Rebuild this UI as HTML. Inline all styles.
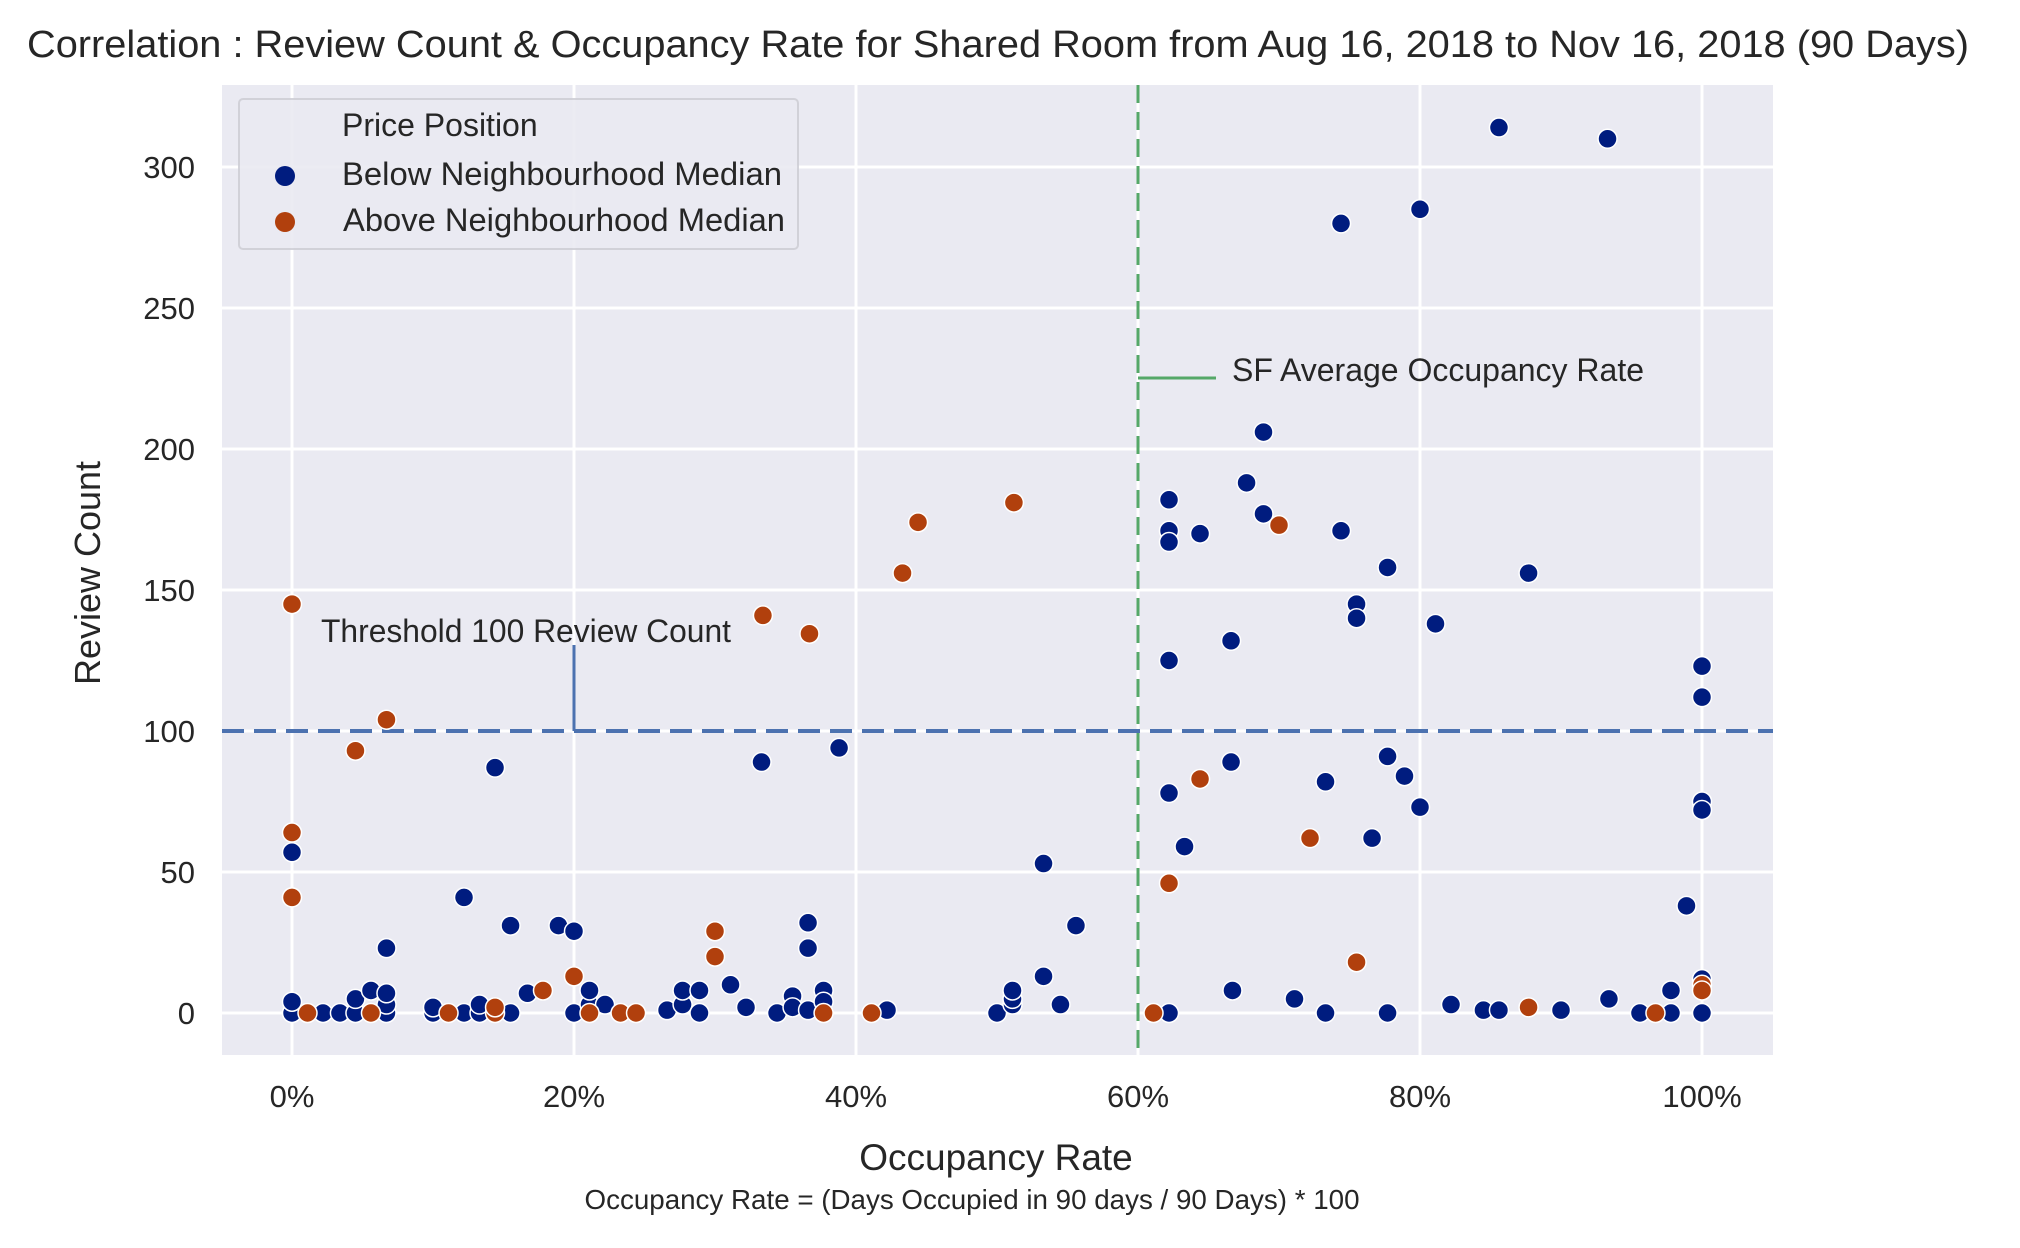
<!DOCTYPE html>
<html><head><meta charset="utf-8"><style>
html,body{margin:0;padding:0;background:#fff;}
svg{display:block;font-family:"Liberation Sans",Arial,sans-serif;}
</style></head><body>
<svg id="chart" width="2020" height="1248" viewBox="0 0 2020 1248" xmlns="http://www.w3.org/2000/svg">
<text x="27" y="57" font-size="38" fill="#262626" textLength="1942" lengthAdjust="spacingAndGlyphs">Correlation : Review Count &amp; Occupancy Rate for Shared Room from Aug 16, 2018 to Nov 16, 2018 (90 Days)</text>
<rect x="222" y="85" width="1551" height="970" fill="#eaeaf2"/>
<g id="grid"></g>
<g id="refs"></g>
<g id="points"></g>
<g id="ticks"></g>
<g>
<rect x="239" y="99" width="559" height="150" rx="4" fill="#eaeaf2" stroke="#cfcfd6" stroke-width="2" opacity="0.9"/>
<text x="342" y="136" font-size="32" fill="#262626">Price Position</text>
<circle cx="285" cy="176" r="10" fill="#001c7f"/>
<text x="342" y="185" font-size="32" fill="#262626" textLength="440" lengthAdjust="spacingAndGlyphs">Below Neighbourhood Median</text>
<circle cx="285" cy="222" r="10" fill="#b1400d"/>
<text x="343" y="231" font-size="32" fill="#262626" textLength="442" lengthAdjust="spacingAndGlyphs">Above Neighbourhood Median</text>
</g>
<text transform="translate(100,573) rotate(-90)" text-anchor="middle" font-size="36" fill="#262626">Review Count</text>
<text x="996" y="1170" text-anchor="middle" font-size="37" fill="#262626">Occupancy Rate</text>
<text x="972" y="1209" text-anchor="middle" font-size="28" fill="#262626" textLength="775" lengthAdjust="spacingAndGlyphs">Occupancy Rate = (Days Occupied in 90 days / 90 Days) * 100</text>
</svg>
<script>
const xTicks = [0, 20, 40, 60, 80, 100];
const xTickLabels = ["0%", "20%", "40%", "60%", "80%", "100%"];
const yTicks = [0, 50, 100, 150, 200, 250, 300];
const yTickLabels = ["0", "50", "100", "150", "200", "250", "300"];
const thresholdReview = 100;
const avgOccupancy = 60;
const belowX = [85.6,93.3,80,74.4,68.9,67.7,62.2,68.9,62.2,62.2,64.4,74.4,77.7,87.7,75.5,75.5,81.1,66.6,62.2,100,100,38.8,33.3,14.4,66.6,77.7,78.9,73.3,62.2,80,100,100,76.6,63.3,0,53.3,12.2,98.9,15.5,18.9,20,55.6,36.6,36.6,6.7,53.3,
 0,0,2.2,3.4,4.5,4.5,5.6,6.7,6.7,6.7,10,10,12.2,13.3,13.3,15.5,16.7,20,21.1,21.1,22.2,26.6,27.7,27.7,28.9,28.9,31.1,32.2,34.4,35.5,35.5,36.6,37.7,37.7,42.2,50,51.1,51.1,51.1,54.5,62.2,66.7,71.1,73.3,77.7,82.2,84.5,85.6,90,93.4,95.6,97.8,97.8,100,100];
const belowY = [314,310,285,280,206,188,182,177,171,167,170,171,158,156,145,140,138,132,125,123,112,94,89,87,89,91,84,82,78,73,75,72,62,59,57,53,41,38,31,31,29,31,32,23,23,13,
 0,4,0,0,0,5,8,0,3,7,0,2,0,0,3,0,7,0,3,8,3,1,3,8,0,8,10,2,0,6,2,1,8,4,1,0,3,5,8,3,0,8,5,0,0,3,1,1,1,5,0,0,8,0,12];
const aboveX = [0,0,0,1.1,4.5,5.6,6.7,11.1,14.4,14.4,17.8,20,21.1,23.3,24.4,30,30,37.7,41.1,33.4,36.7,43.3,44.4,51.2,70,64.4,72.2,62.2,75.5,87.7,96.7,61.1,100,100];
const aboveY = [145,64,41,0,93,0,104,0,0,2,8,13,0,0,0,29,20,0,0,141,134.5,156,174,181,173,83,62,46,18,2,0,0,10,8];

const NS = "http://www.w3.org/2000/svg";
function xS(p){ return 292 + 14.1*p; }
function yS(v){ return 1013 - 2.82*v; }
function mk(tag, attrs, parent){ const e=document.createElementNS(NS,tag); for(const k in attrs) e.setAttribute(k,attrs[k]); parent.appendChild(e); return e; }
const grid=document.getElementById('grid'), ticks=document.getElementById('ticks'), pts=document.getElementById('points'), refs=document.getElementById('refs');
xTicks.forEach((t,i)=>{
  const l=mk('line',{x1:xS(t),x2:xS(t),y1:85,y2:1055,stroke:'#fff','stroke-width':3},grid);
  
  
  const tx=mk('text',{x:xS(t),y:1107,'text-anchor':'middle','font-size':31,fill:'#262626'},ticks);
  tx.textContent=xTickLabels[i];
  
  
});
yTicks.forEach((t,i)=>{
  const l=mk('line',{x1:222,x2:1773,y1:yS(t),y2:yS(t),stroke:'#fff','stroke-width':3},grid);
  
  
  const tx=mk('text',{x:195,y:yS(t)+11,'text-anchor':'end','font-size':31,fill:'#262626'},ticks);
  tx.textContent=yTickLabels[i];
  
  
});
const hl=mk('line',{x1:222,x2:1773,y1:yS(thresholdReview),y2:yS(thresholdReview),stroke:'#4c72b0','stroke-width':4,'stroke-dasharray':'22,10'},refs);


const vl=mk('line',{x1:xS(avgOccupancy),x2:xS(avgOccupancy),y1:85,y2:1055,stroke:'#55a868','stroke-width':3,'stroke-dasharray':'18,9'},refs);


const ha=mk('line',{x1:xS(20),x2:xS(20),y1:645,y2:yS(thresholdReview),stroke:'#4c72b0','stroke-width':3},refs);


const ht=mk('text',{x:321,y:642,'font-size':32,fill:'#262626',textLength:410,lengthAdjust:'spacingAndGlyphs'},refs);
ht.textContent='Threshold 100 Review Count';


const va=mk('polyline',{points:`${xS(avgOccupancy)},378 1216,378`,fill:'none',stroke:'#55a868','stroke-width':3},refs);


const vt=mk('text',{x:1232,y:381,'font-size':32,fill:'#262626',textLength:412,lengthAdjust:'spacingAndGlyphs'},refs);
vt.textContent='SF Average Occupancy Rate';


belowX.forEach((x,i)=>{
  const c=mk('circle',{cx:xS(x),cy:yS(belowY[i]),r:9.5,fill:'#001c7f',stroke:'#fff','stroke-width':1.5},pts);
  
  
});
aboveX.forEach((x,i)=>{
  const c=mk('circle',{cx:xS(x),cy:yS(aboveY[i]),r:9.5,fill:'#b1400d',stroke:'#fff','stroke-width':1.5},pts);
  
  
});
</script>
</body></html>
